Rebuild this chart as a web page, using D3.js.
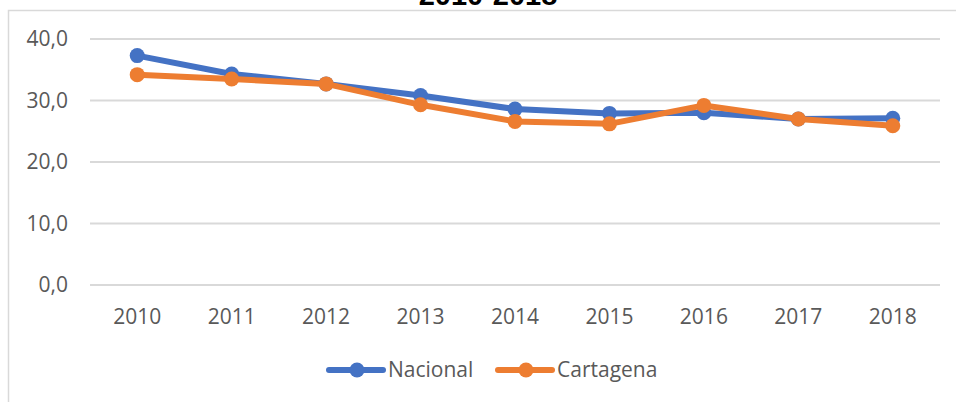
<!DOCTYPE html>
<html>
<head>
<meta charset="utf-8">
<script src="https://cdn.jsdelivr.net/npm/d3@7"></script>
<style>
  html, body { margin: 0; padding: 0; background: #fff; }
  svg { display: block; }
</style>
</head>
<body>
<div id="chart"></div>
<script>
const years = ["2010", "2011", "2012", "2013", "2014", "2015", "2016", "2017", "2018"];
const nacional = [37.3, 34.3, 32.7, 30.8, 28.6, 27.9, 28.0, 27.0, 27.1];
const cartagena = [34.2, 33.5, 32.7, 29.3, 26.6, 26.2, 29.2, 27.0, 25.9];
const yTicks = [0, 10, 20, 30, 40];

const series = [
  { name: "Nacional", values: nacional, color: "#4472C4" },
  { name: "Cartagena", values: cartagena, color: "#ED7D31" },
];

const width = 956;
const height = 402;
const plot = { left: 90, right: 940, top: 39, bottom: 285 };
const labelFont = "'Open Sans', 'Noto Sans', sans-serif";

const svg = d3
  .select("#chart")
  .append("svg")
  .attr("width", width)
  .attr("height", height);

// chart-area border (only top and left are in frame)
svg
  .append("path")
  .attr("d", `M8.5,${height} V10.5 H${width}`)
  .attr("fill", "none")
  .attr("stroke", "#d9d9d9")
  .attr("stroke-width", 1.5);

// title, mostly cut off at the top edge
svg
  .append("text")
  .attr("x", 488)
  .attr("y", 5)
  .attr("text-anchor", "middle")
  .attr("font-family", "'Liberation Sans', Arial, sans-serif")
  .attr("font-weight", 700)
  .attr("font-size", "29px")
  .attr("fill", "#000")
  .text("2010-2018");

const x = d3
  .scalePoint()
  .domain(years)
  .range([plot.left, plot.right])
  .padding(0.5);

const y = d3.scaleLinear().domain([0, 40]).range([plot.bottom, plot.top]);

// gridlines
svg
  .append("g")
  .selectAll("line")
  .data(yTicks)
  .enter()
  .append("line")
  .attr("x1", plot.left)
  .attr("x2", plot.right)
  .attr("y1", (d) => y(d))
  .attr("y2", (d) => y(d))
  .attr("stroke", "#d9d9d9")
  .attr("stroke-width", 2);

// y labels
svg
  .append("g")
  .selectAll("text")
  .data(yTicks)
  .enter()
  .append("text")
  .attr("x", 68)
  .attr("y", (d) => y(d))
  .attr("dy", "0.35em")
  .attr("text-anchor", "end")
  .attr("font-family", labelFont)
  .attr("font-size", "21px")
  .attr("fill", "#595959")
  .text((d) => d.toFixed(1).replace(".", ","));

// x labels
svg
  .append("g")
  .selectAll("text")
  .data(years)
  .enter()
  .append("text")
  .attr("x", (d) => x(d))
  .attr("y", 317)
  .attr("dy", "0.35em")
  .attr("text-anchor", "middle")
  .attr("font-family", labelFont)
  .attr("font-size", "21px")
  .attr("fill", "#595959")
  .text((d) => d);

const line = d3
  .line()
  .x((_, i) => x(years[i]))
  .y((d) => y(d));

series.forEach((s) => {
  const g = svg.append("g");

  g.append("path")
    .datum(s.values)
    .attr("d", line)
    .attr("fill", "none")
    .attr("stroke", s.color)
    .attr("stroke-width", 6)
    .attr("stroke-linejoin", "round")
    .attr("stroke-linecap", "round");

  g.selectAll("circle")
    .data(s.values)
    .enter()
    .append("circle")
    .attr("cx", (_, i) => x(years[i]))
    .attr("cy", (d) => y(d))
    .attr("r", 7.5)
    .attr("fill", s.color);
});

// legend
const legendItems = [
  { name: "Nacional", color: "#4472C4", x: 329 },
  { name: "Cartagena", color: "#ED7D31", x: 498 },
];

const legend = svg.append("g").attr("transform", "translate(0, 370)");

legendItems.forEach((item) => {
  legend
    .append("line")
    .attr("x1", item.x)
    .attr("x2", item.x + 54)
    .attr("y1", 0)
    .attr("y2", 0)
    .attr("stroke", item.color)
    .attr("stroke-width", 6)
    .attr("stroke-linecap", "round");

  legend
    .append("circle")
    .attr("cx", item.x + 28)
    .attr("cy", 0)
    .attr("r", 7.5)
    .attr("fill", item.color);

  legend
    .append("text")
    .attr("x", item.x + 59)
    .attr("y", 0)
    .attr("dy", "0.35em")
    .attr("font-family", labelFont)
    .attr("font-size", "21px")
    .attr("fill", "#595959")
    .text(item.name);
});
</script>
</body>
</html>
